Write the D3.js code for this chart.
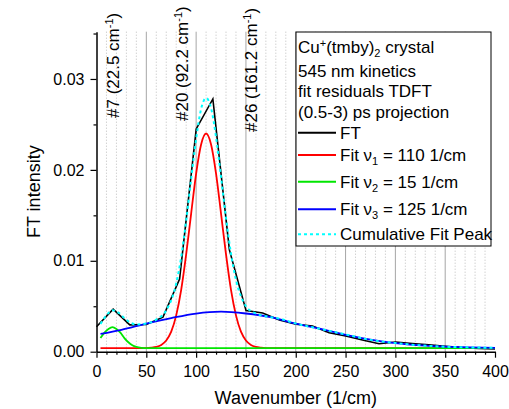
<!DOCTYPE html>
<html>
<head>
<meta charset="utf-8">
<script src="https://cdn.jsdelivr.net/npm/d3@7"></script>
<style>
  body { margin: 0; background: #fff; }
  svg { display: block; font-family: Arial, "Liberation Sans", sans-serif; }
</style>
</head>
<body>
<svg id="chart" width="509" height="409"></svg>
<script>
// FT spectrum (wavenumber 1/cm, intensity)
const ftWavenumber = [0, 16.7, 33.4, 50.0, 66.7, 83.4, 100.1, 116.8, 133.4, 150.1, 166.8, 183.5, 200.2, 216.8, 233.5, 250.2, 266.9, 283.6, 300.2, 316.9, 333.6, 350.3, 367.0, 383.6, 400];
const ftIntensity = [0.00275, 0.00467, 0.00295, 0.00300, 0.00380, 0.00800, 0.02450, 0.02780, 0.01120, 0.00452, 0.00425, 0.00350, 0.00302, 0.00283, 0.00209, 0.00173, 0.00129, 0.00087, 0.00107, 0.00090, 0.00075, 0.00060, 0.00045, 0.00035, 0.00030];

// fit nu1 = 110 1/cm (red)
const fit1Wn = [4, 50, 55, 60, 65, 70, 75, 80, 85, 90, 95, 100, 105, 110, 115, 120, 125, 130, 135, 140, 145, 150, 155, 160, 165, 170, 400];
const fit1Val = [0.0004, 0.0004, 0.00044, 0.00053, 0.00075, 0.00124, 0.0022, 0.0040, 0.0068, 0.0107, 0.0152, 0.0196, 0.0228, 0.0240, 0.0228, 0.0196, 0.0152, 0.0107, 0.0068, 0.0040, 0.0022, 0.00124, 0.00075, 0.00053, 0.00044, 0.0004, 0.0004];

// fit nu2 = 15 1/cm (green)
const fit2Wn = [4, 8, 12, 16, 20, 24, 28, 32, 36, 40, 45, 50, 400];
const fit2Val = [0.0015, 0.0021, 0.0025, 0.0027, 0.0025, 0.0021, 0.0015, 0.00104, 0.00071, 0.00053, 0.00043, 0.0004, 0.0004];

// fit nu3 = 125 1/cm (blue)
const fit3Wn = [4, 25, 50, 75, 100, 125, 150, 175, 200, 225, 250, 275, 300, 325, 350, 375, 400];
const fit3Val = [0.00195, 0.0024, 0.0031, 0.0037, 0.0042, 0.0044, 0.0042, 0.0038, 0.0031, 0.0025, 0.00186, 0.00134, 0.00095, 0.0007, 0.00055, 0.00047, 0.00043];

// cumulative fit peak (cyan dotted)
const cumWn = [4, 10, 16, 22, 28, 34, 40, 50, 60, 70, 80, 85, 90, 95, 100, 105, 110, 115, 120, 125, 130, 135, 140, 145, 150, 160, 170, 185, 200, 225, 250, 275, 300, 325, 350, 375, 400];
const cumVal = [0.00305, 0.0040, 0.00456, 0.0043, 0.0037, 0.0032, 0.0030, 0.0031, 0.00353, 0.00454, 0.0075, 0.0104, 0.0144, 0.0190, 0.0234, 0.0267, 0.0279, 0.0268, 0.0236, 0.0192, 0.0147, 0.0108, 0.0079, 0.0061, 0.0050, 0.0042, 0.0039, 0.0036, 0.0031, 0.0025, 0.0019, 0.0013, 0.00095, 0.0007, 0.00055, 0.00047, 0.00043];

// axis ticks
const xMajorTicks = [0, 50, 100, 150, 200, 250, 300, 350, 400];
const yMajorTicks = [0, 0.01, 0.02, 0.03];
const yMinorTicks = [0.005, 0.015, 0.025, 0.035];

// mode markers
const modeNames = ["#7", "#20", "#26"];
const modeWn = [22.5, 92.2, 161.2];
const modeLabelBottom = [118, 121, 132];

const headerLines = [
    [{ t: "Cu" }, { t: "+", sup: true }, { t: "(tmby)" }, { t: "2", sub: true }, { t: " crystal" }],
    [{ t: "545 nm kinetics" }],
    [{ t: "fit residuals TDFT" }],
    [{ t: "(0.5-3) ps projection" }]
];
const legendItems = [
    { parts: [{ t: "FT" }], color: "#000000", dash: null },
    { parts: [{ t: "Fit ν" }, { t: "1", sub: true }, { t: " = 110 1/cm" }], color: "#ff0000", dash: null },
    { parts: [{ t: "Fit ν" }, { t: "2", sub: true }, { t: " = 15 1/cm" }], color: "#00e600", dash: null },
    { parts: [{ t: "Fit ν" }, { t: "3", sub: true }, { t: " = 125 1/cm" }], color: "#0000ff", dash: null },
    { parts: [{ t: "Cumulative Fit Peak" }], color: "#00ffff", dash: "3,3" }
];

const svg = d3.select("#chart");
const plotLeft = 96.5, plotRight = 495, plotTop = 31.7, plotBottom = 351.7;

const x = d3.scaleLinear().domain([0, 400]).range([plotLeft, plotRight]);
const y = d3.scaleLinear().domain([0, 0.0352]).range([plotBottom, plotTop]);

// append text made of pieces with sub/superscripts
function richText(textSel, parts, small) {
    let shift = 0;
    parts.forEach(p => {
        const target = p.sup ? -6 : (p.sub ? 4 : 0);
        const span = textSel.append("tspan").text(p.t).attr("dy", target - shift);
        if (p.sup || p.sub) span.style("font-size", small + "px");
        shift = target;
    });
}

// grid
const grid = svg.append("g");
grid.selectAll("line.minor")
    .data(d3.range(10, 400, 10).filter(v => v % 50 !== 0))
    .join("line")
    .attr("x1", d => x(d)).attr("x2", d => x(d))
    .attr("y1", plotTop).attr("y2", plotBottom)
    .attr("stroke", "#bdbdbd")
    .attr("stroke-dasharray", "1,2");
grid.selectAll("line.major")
    .data(xMajorTicks.filter(v => v > 0 && v < 400))
    .join("line")
    .attr("x1", d => x(d)).attr("x2", d => x(d))
    .attr("y1", plotTop).attr("y2", plotBottom)
    .attr("stroke", "#a6a6a6")
    .attr("stroke-width", 1);

// mode labels
modeNames.forEach((name, i) => {
    const t = svg.append("text")
        .attr("transform", `translate(${x(modeWn[i])},${modeLabelBottom[i]}) rotate(-90)`)
        .attr("dy", "0.35em")
        .style("font-size", "17px")
        .attr("fill", "#000");
    richText(t, [{ t: `${name} (${modeWn[i].toFixed(1)} cm` }, { t: "-1", sup: true }, { t: ")" }], 11);
});

// curves
const smooth = d3.line().x(d => x(d[0])).y(d => y(d[1])).curve(d3.curveMonotoneX);
const straight = d3.line().x(d => x(d[0])).y(d => y(d[1]));

svg.append("path")
    .attr("d", straight(d3.zip(ftWavenumber, ftIntensity)))
    .attr("fill", "none").attr("stroke", "#000").attr("stroke-width", 1.6);
svg.append("path")
    .attr("d", smooth(d3.zip(fit1Wn, fit1Val)))
    .attr("fill", "none").attr("stroke", "#ff0000").attr("stroke-width", 1.8);
svg.append("path")
    .attr("d", smooth(d3.zip(fit2Wn, fit2Val)))
    .attr("fill", "none").attr("stroke", "#00e600").attr("stroke-width", 1.8);
svg.append("path")
    .attr("d", smooth(d3.zip(fit3Wn, fit3Val)))
    .attr("fill", "none").attr("stroke", "#0000ff").attr("stroke-width", 1.8);
svg.append("path")
    .attr("d", smooth(d3.zip(cumWn, cumVal)))
    .attr("fill", "none").attr("stroke", "#00ffff").attr("stroke-width", 2)
    .attr("stroke-dasharray", "3,3");

// axes
svg.append("g").attr("transform", `translate(0,${plotBottom})`)
    .call(d3.axisBottom(x).tickValues(xMajorTicks).tickSize(6).tickSizeOuter(0).tickPadding(8));
svg.append("g").attr("transform", `translate(0,${plotBottom})`)
    .call(d3.axisBottom(x).tickValues(d3.range(10, 400, 10).filter(v => v % 50 !== 0)).tickSize(3).tickFormat(""))
    .select(".domain").remove();
svg.append("g").attr("transform", `translate(${plotLeft},0)`)
    .call(d3.axisLeft(y).tickValues(yMajorTicks).tickFormat(d3.format(".2f")).tickSize(6).tickSizeOuter(0).tickPadding(6));
svg.append("g").attr("transform", `translate(${plotLeft},0)`)
    .call(d3.axisLeft(y).tickValues(yMinorTicks).tickSize(3).tickFormat(""))
    .select(".domain").remove();

svg.selectAll(".domain").attr("stroke", "#000").attr("stroke-width", 1.5);
svg.selectAll(".tick line").attr("stroke", "#000").attr("stroke-width", 1.2);
svg.selectAll(".tick text").style("font-size", "16px").style("font-family", "Arial, 'Liberation Sans', sans-serif").attr("fill", "#000");

svg.append("text")
    .attr("x", (plotLeft + plotRight) / 2).attr("y", 404)
    .attr("text-anchor", "middle")
    .style("font-size", "18px")
    .text("Wavenumber (1/cm)");
svg.append("text")
    .attr("transform", `translate(40,${(plotTop + plotBottom) / 2}) rotate(-90)`)
    .attr("text-anchor", "middle")
    .style("font-size", "18px")
    .text("FT intensity");

// legend box
const legend = svg.append("g");
legend.append("rect")
    .attr("x", 296).attr("y", 32).attr("width", 195).attr("height", 214)
    .attr("fill", "#fff").attr("stroke", "#000").attr("stroke-width", 1);

const headerBaselines = [53, 76.5, 97, 118];
headerLines.forEach((parts, i) => {
    const t = legend.append("text")
        .attr("x", 298).attr("y", headerBaselines[i])
        .style("font-size", "17px");
    richText(t, parts, 11);
});

const itemY = [132.7, 155, 181.7, 209.3, 234.3];
legendItems.forEach((item, i) => {
    legend.append("line")
        .attr("x1", 298).attr("x2", 336)
        .attr("y1", itemY[i]).attr("y2", itemY[i])
        .attr("stroke", item.color)
        .attr("stroke-width", 2)
        .attr("stroke-dasharray", item.dash);
    const t = legend.append("text")
        .attr("x", 340).attr("y", itemY[i] + 6)
        .style("font-size", "17px");
    richText(t, item.parts, 11);
});
</script>
</body>
</html>
